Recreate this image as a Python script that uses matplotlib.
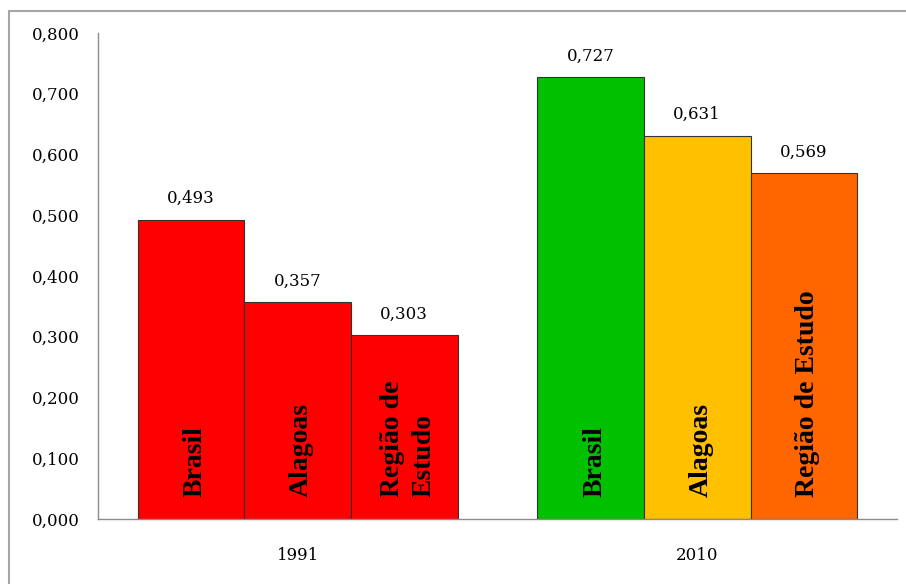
import numpy as np
import matplotlib
matplotlib.use('Agg')
import matplotlib.pyplot as plt
from matplotlib.patches import Rectangle

# IDHM por ano
years = ['1991', '2010']
regions = ['Brasil', 'Alagoas', 'Região de Estudo']
vals_1991 = [0.493, 0.357, 0.303]
vals_2010 = [0.727, 0.631, 0.569]
names_1991 = ['Brasil', 'Alagoas', 'Região de\nEstudo']
names_2010 = ['Brasil', 'Alagoas', 'Região de Estudo']
colors_1991 = ['#ff0000', '#ff0000', '#ff0000']
colors_2010 = ['#00c000', '#ffc000', '#ff6600']

fig = plt.figure(figsize=(9.06, 5.84), dpi=100)
ax = fig.add_axes([98 / 906, 1 - 519 / 584, 799 / 906, 486 / 584])

# moldura externa
fig.patches.append(Rectangle((9 / 906, -0.05), 1.05, 1 - 11 / 584 + 0.05,
                             transform=fig.transFigure, fill=False,
                             edgecolor='#a6a6a6', linewidth=1.5))

x = np.arange(len(years))
w = 0.8 / 3
serif = 'DejaVu Serif'
fs = 12

groups = [(vals_1991, names_1991, colors_1991), (vals_2010, names_2010, colors_2010)]
for i, (vals, names, cols) in enumerate(groups):
    for j in range(3):
        xc = x[i] + (j - 1) * w
        ax.bar(xc, vals[j], width=w, color=cols[j], edgecolor='#333333', linewidth=0.8)
        ax.annotate(f'{vals[j]:.3f}'.replace('.', ','), (xc, vals[j]),
                    xytext=(0, 9), textcoords='offset points',
                    ha='center', va='bottom', fontsize=fs, family=serif)
        ax.text(xc + 0.01, 0.036, names[j], rotation=90, ha='center', va='bottom',
                fontsize=20, fontweight='bold', family='Liberation Serif',
                linespacing=1.35, multialignment='left')

ax.set_xlim(-0.5, 1.5)
ax.set_ylim(0, 0.8)
ax.set_yticks(np.arange(0, 0.81, 0.1))
ax.set_yticklabels([f'{v:.3f}'.replace('.', ',') for v in np.arange(0, 0.81, 0.1)],
                   family=serif, fontsize=fs)
ax.set_xticks(x)
ax.set_xticklabels(years, family=serif, fontsize=fs)
ax.tick_params(axis='y', length=0, pad=13)
ax.tick_params(axis='x', length=0, pad=20)

for s in ['top', 'right']:
    ax.spines[s].set_visible(False)
for s in ['left', 'bottom']:
    ax.spines[s].set_color('#8c8c8c')
    ax.spines[s].set_linewidth(1.0)

fig.savefig('out.png', dpi=100)
